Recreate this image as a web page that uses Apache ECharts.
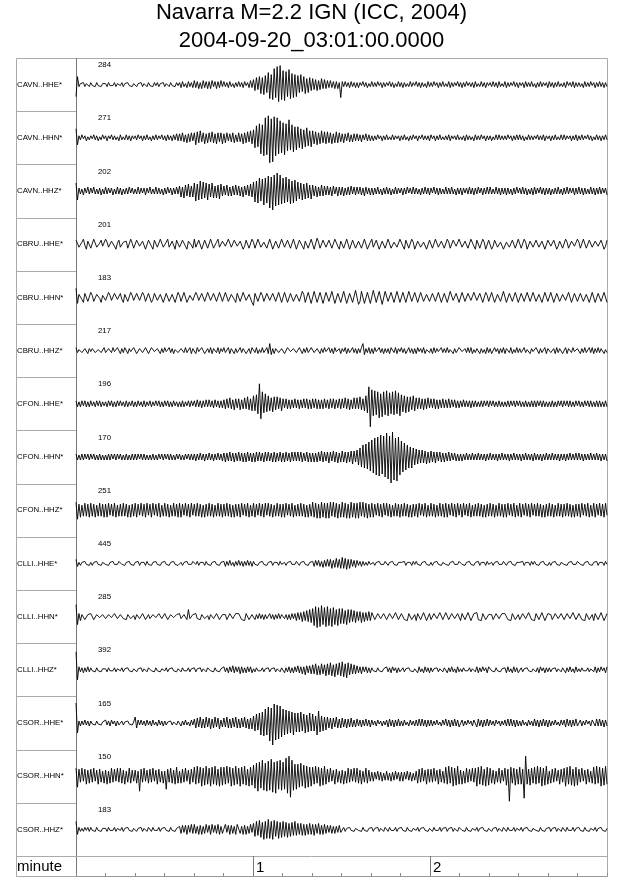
<!DOCTYPE html>
<html><head><meta charset="utf-8">
<script src="https://cdn.jsdelivr.net/npm/echarts@6/dist/echarts.min.js"></script>
<style>html,body{margin:0;padding:0;background:#fff}#c{width:640px;height:878px}</style>
</head><body><div id="c"></div>
<script>
// ---- data ----
const titleLines = ['Navarra M=2.2 IGN (ICC, 2004)', '2004-09-20_03:01:00.0000'];
const stations = ['CAVN..HHE*','CAVN..HHN*','CAVN..HHZ*','CBRU..HHE*','CBRU..HHN*','CBRU..HHZ*','CFON..HHE*','CFON..HHN*','CFON..HHZ*','CLLI..HHE*','CLLI..HHN*','CLLI..HHZ*','CSOR..HHE*','CSOR..HHN*','CSOR..HHZ*'];
const peakCounts = [284,271,202,201,183,217,196,170,251,445,285,392,165,150,183];
const axisName = 'minute';
const minuteTickValues = [60, 120];      // seconds
const minuteTickLabels = ['1', '2'];
const durationSec = 180;

// trace samples (two per second), deflection in screen pixels
const CAVN_HHE = [-12,8,-2,1,-1,2,-2,1,0,-2, 2,-1,1,-2,2,-1,0,-2,1,-1, 1,-2,2,-1,1,-1,2,-2,1,0, -1,2,-2,1,-1,2,-1,1,-2,1, 2,-2,1,-1,2,-2,1,0,-2,2, -1,1,-2,2,-1,2,-2,1,-1,2, -2,1,0,-2,2,-1,1,-2,2,-1, 2,-3,3,-2,1,-3,3,-2,2,-3, 4,-3,3,-4,2,-4,4,-3,3,-4, 3,-4,4,-2,3,-4,3,-3,4,-2, 3,-2,2,-3,3,-2,1,-3,2,-2, 3,-2,2,-3,3,-1,2,-3,4,-3, 5,-6,7,-5,8,-9,7,-10,9,-8, 12,-14,10,-15,16,-13,18,-17,19,-15, 14,-16,13,-12,15,-14,11,-13,10,-12, 9,-8,10,-7,8,-9,6,-8,7,-6, 6,-5,5,-6,4,-5,6,-4,5,-4, 4,-3,4,-3,3,-4,3,-4,2,-13, 3,-2,3,-2,2,-3,3,-2,2,-3, 2,-3,2,-1,3,-2,2,-3,1,-2, 3,-2,2,-2,3,-1,2,-3,2,-2, 2,-1,3,-2,2,-3,1,-2,3,-2, 2,-3,2,-2,1,-2,3,-2,2,-1, 3,-2,2,-3,2,-2,1,-3,3,-2, 2,-2,3,-1,2,-3,2,-2,3,-2, 1,-2,3,-3,2,-2,2,-1,3,-2, 2,-3,2,-2,3,-1,2,-2,2,-3, 3,-2,1,-2,3,-2,2,-3,2,-1, 2,-2,3,-2,2,-3,3,-2,1,-2, 3,-3,2,-2,2,-1,3,-2,2,-3, 2,-1,2,-3,3,-2,2,-2,3,-2, 1,-3,2,-2,3,-2,2,-1,2,-3, 3,-2,2,-3,2,-2,3,-2,1,-2, 2,-3,3,-1,2,-2,3,-3,2,-2, 2,-2,1,-3,3,-2,2,-2,3,-1, 2,-3,2,-2,3,-2,2,-3,2,-2];
const CAVN_HHN = [9,-7,2,-2,3,-1,2,-3,1,-2, 2,-1,3,-2,2,-3,1,-2,3,-1, 2,-3,2,-1,3,-2,2,-2,1,-3, 3,-2,1,-2,3,-2,2,-3,2,-1, 2,-2,3,-1,2,-3,2,-2,3,-2, 1,-3,2,-2,3,-2,2,-1,3,-2, 2,-3,3,-2,2,-3,3,-2,4,-3, 4,-3,5,-4,3,-5,4,-4,5,-3, 5,-7,6,-5,7,-4,5,-6,4,-5, 5,-4,6,-5,4,-6,5,-4,5,-6, 4,-5,5,-3,4,-4,5,-5,3,-4, 5,-4,4,-6,5,-5,6,-4,7,-6, 8,-10,12,-9,14,-16,13,-18,20,-17, 22,-25,19,-24,21,-18,20,-16,17,-15, 15,-17,14,-13,18,-12,13,-14,11,-12, 11,-10,9,-11,8,-9,10,-8,7,-9, 7,-6,6,-7,5,-6,7,-5,6,-6, 6,-5,5,-6,4,-5,6,-5,5,-4, 4,-5,4,-3,5,-4,3,-4,4,-3, 4,-3,3,-4,3,-2,4,-3,3,-3, 2,-3,2,-2,3,-1,2,-3,2,-2, 3,-2,1,-2,3,-2,2,-1,2,-3, 2,-2,3,-2,1,-3,2,-2,3,-1, 2,-3,2,-1,3,-2,2,-2,2,-3, 3,-1,2,-3,2,-2,3,-2,1,-2, 2,-2,3,-3,2,-1,2,-2,3,-2, 1,-2,2,-3,3,-2,2,-2,1,-3, 3,-2,2,-2,3,-1,2,-3,2,-2, 2,-3,1,-2,3,-2,3,-2,2,-2, 2,-2,3,-1,2,-3,2,-2,3,-2, 3,-2,2,-3,1,-2,3,-2,2,-2, 2,-1,3,-2,2,-2,3,-3,2,-1, 2,-3,2,-2,3,-2,1,-2,3,-2, 3,-2,2,-1,2,-3,2,-2,3,-3, 2,-2,3,-2,2,-1,3,-2,2,-3, 1,-2,3,-2,2,-3,2,-2,3,-2];
const CAVN_HHZ = [8,-9,3,-3,2,-4,3,-2,4,-3, 3,-2,4,-3,2,-3,3,-4,2,-3, 4,-3,3,-2,3,-4,2,-3,4,-3, 3,-4,2,-3,3,-3,4,-2,3,-3, 2,-3,4,-3,3,-2,3,-4,3,-2, 4,-3,2,-3,4,-3,3,-3,2,-4, 3,-3,4,-2,3,-4,3,-3,4,-3, 5,-6,4,-7,6,-5,7,-6,5,-6, 8,-10,7,-9,10,-8,9,-7,8,-9, 7,-6,8,-7,5,-7,6,-8,7,-5, 5,-4,6,-5,4,-5,5,-4,6,-4, 5,-5,4,-6,5,-4,6,-5,7,-6, 9,-11,10,-12,13,-10,12,-14,13,-12, 15,-17,14,-19,16,-15,18,-14,16,-13, 13,-12,14,-11,12,-13,10,-12,11,-10, 9,-8,8,-9,7,-8,8,-7,6,-8, 6,-5,5,-6,4,-5,6,-5,5,-4, 5,-4,4,-5,5,-3,4,-5,4,-4, 4,-5,3,-4,4,-4,5,-3,4,-4, 4,-3,4,-4,3,-5,4,-3,3,-4, 3,-4,3,-3,4,-3,2,-4,3,-3, 4,-3,3,-4,2,-3,4,-3,3,-2, 3,-4,3,-3,4,-2,3,-3,4,-3, 3,-3,2,-4,3,-3,4,-3,3,-4, 3,-2,4,-3,3,-4,3,-3,2,-3, 4,-3,3,-3,4,-3,2,-4,3,-3, 3,-4,3,-2,3,-3,4,-3,3,-4, 3,-3,4,-2,3,-4,3,-3,4,-3, 4,-3,2,-3,4,-3,3,-4,3,-3, 3,-4,3,-3,2,-4,3,-3,4,-2, 3,-3,4,-3,3,-4,2,-3,3,-4, 4,-3,3,-2,4,-3,3,-4,3,-3, 3,-4,2,-3,3,-3,4,-3,2,-4, 3,-3,4,-3,3,-2,3,-4,3,-3, 4,-3,3,-4,3,-3,2,-3,4,-3, 3,-4,3,-3,4,-3,3,-2,3,-4];
const CBRU_HHE = [4,1,-3,-4,2,5,-1,-5,3,2, -4,-2,5,3,-3,-5,1,4,-2,-4, 5,2,-3,-4,3,4,-2,-5,1,4, -3,-5,2,4,3,-4,-2,5,1,-4, -3,4,5,-2,-4,3,2,-5,-3,4, 3,-2,-5,4,2,-3,-4,5,1,-3, -4,2,5,-3,-4,3,1,-5,4,2, -3,-4,4,3,-2,-5,3,4,-1,-4, 5,-3,-2,4,3,-5,-3,4,2,-4, -2,5,3,-4,-4,2,5,-3,-5,3, 4,-2,-4,5,1,-3,-5,4,3,-2, -4,3,4,-5,-2,4,3,-4,-3,5, 2,-4,-3,5,4,-3,-5,2,4,-4, -2,5,3,-5,-4,3,2,-4,-3,5, 4,-3,-5,4,2,-4,-2,5,3,-5, -3,4,5,-2,-5,3,4,-4,-2,5, 3,-5,-3,6,2,-4,-5,4,3,-3, -5,4,2,-4,-3,5,4,-2,-5,3, 4,-4,-2,5,3,-5,-3,4,2,-4, -5,3,4,-4,-2,5,3,-5,-4,2, 5,-3,-4,4,2,-5,-3,3,4,-4, -2,5,3,-4,-5,2,4,-3,-4,5, 3,-2,-5,4,3,-4,-2,5,2,-5, -4,3,5,-3,-4,2,4,-5,-3,4, 2,-4,-3,5,4,-3,-5,3,2,-4, -3,5,2,-4,-5,4,3,-2,-4,5, 4,-3,-5,3,2,-4,-3,5,4,-2, -5,4,3,-4,-2,5,2,-5,-3,4, 3,-5,-2,4,5,-3,-4,2,3,-5, -4,2,4,-3,-5,4,3,-4,-2,5, 3,-4,-3,5,2,-5,-4,3,4,-3, -2,4,5,-3,-4,3,2,-5,-3,4, 5,-2,-4,4,3,-5,-2,3,4,-4, -3,5,2,-4,-5,3,4,-2,-4,5, 2,-4,-3,5,3,-4,-5,4,2,-3, -4,3,5,-2,-4,4,3,-5,-2,4];
const CBRU_HHN = [9,-6,3,5,-2,-5,4,3,-4,-2, 5,2,-4,-5,3,4,-1,-5,2,4, -3,-4,5,2,-3,-5,4,3,-2,-4, 4,-2,-5,3,4,-4,-3,5,2,-3, -5,4,3,-3,-4,5,2,-4,-3,4, 3,-5,-2,4,5,-3,-4,3,2,-5, -3,4,5,-4,-2,3,4,-5,-3,5, 2,-4,-3,5,3,-5,-4,2,4,-3, -4,5,2,-3,-5,4,3,-4,-2,5, 4,-3,-5,4,2,-4,-3,5,3,-4, -3,5,3,-4,-4,3,5,-2,-5,4, 2,-4,-3,5,4,-3,-5,3,2,-5, -8,4,3,-4,-3,5,2,-4,-4,4, 5,-3,-5,4,3,-4,-2,5,4,-5, -3,5,4,-5,-3,4,5,-4,-5,3, 5,-4,-5,6,3,-5,-4,5,4,-6, -5,6,4,-5,-6,5,3,-6,-4,5, 6,-4,-5,6,4,-6,-5,4,6,-5, -4,6,5,-6,-5,4,6,-5,-4,7, 5,-7,-4,6,5,-6,-7,5,4,-6, -6,7,5,-5,-6,6,4,-7,-5,6, 5,-4,-6,5,3,-5,-4,6,4,-5, -4,5,4,-5,-3,6,4,-4,-5,5, 4,-5,-3,5,4,-4,-5,3,5,-4, -5,4,5,-4,-3,5,3,-5,-4,4, 3,-5,-4,6,4,-3,-5,4,3,-5, -4,5,3,-4,-5,4,5,-3,-4,5, 5,-3,-5,4,3,-5,-4,5,2,-4, -3,5,4,-5,-4,3,5,-4,-3,6, 4,-5,-3,4,5,-4,-3,5,4,-5, -5,4,3,-4,-5,5,3,-4,-4,5, 4,-4,-5,3,4,-5,-3,5,3,-4, -4,5,3,-5,-3,4,5,-4,-5,3, 5,-3,-4,5,4,-5,-3,4,5,-4, -3,4,5,-4,-5,3,4,-5,-3,5, 4,-5,-3,4,5,-4,-4,5,3,-5];
const CBRU_HHZ = [3,-2,1,3,-2,-3,2,1,-3,2, -1,2,3,-2,-3,1,2,-2,-1,3, -2,-3,2,1,-2,3,-1,-2,3,2, -3,2,-2,3,1,-3,2,-1,-2,3, 2,-3,-1,2,3,-2,-2,3,1,-3, -2,3,2,-1,-3,2,1,-3,2,-2, 3,-1,-2,3,-2,2,-3,1,3,-2, -3,2,1,-2,3,-2,-1,3,-3,2, 2,-3,3,-1,-2,3,2,-3,-2,2, -2,3,-3,2,1,-2,3,-3,2,-1, 3,-2,-2,3,-3,2,1,-3,2,-2, -1,3,-2,2,3,-3,-2,2,-3,3, 2,-2,3,-3,1,-2,3,-2,-2,3, -3,7,-4,2,-3,2,3,-2,-3,2, 2,-3,-2,3,2,-1,-3,2,3,-2, -2,3,1,-3,2,-2,3,-2,-1,3, 3,-2,-3,2,1,-3,2,-2,3,-1, -2,3,-2,2,-3,3,-1,-2,2,-3, 2,-1,3,-3,2,-2,-2,3,-2,2, -3,2,-2,3,7,-4,2,-2,3,-3, 2,-3,3,-1,-2,3,-2,2,-3,2, -2,2,-3,3,1,-2,3,-3,2,-1, 3,-2,2,-3,-1,3,-2,2,-3,2, -3,3,-1,2,-2,3,-3,1,2,-2, 2,-3,3,-2,2,-1,-3,3,-2,2, -2,3,-2,1,3,-3,2,-2,-1,3, 3,-1,-3,2,-2,3,-2,3,-3,1, -2,2,3,-3,2,-2,1,-3,3,-2, 2,-3,-2,3,-1,2,-3,2,-2,3, -3,2,2,-2,3,-3,1,-2,3,-2, 2,-2,-3,3,-2,1,3,-3,2,-1, -2,3,2,-3,2,-2,-2,3,-3,2, 3,-2,-1,2,-3,3,-2,2,1,-3, -2,3,-3,2,2,-2,3,-1,-3,2, 2,-3,2,-2,3,-2,-1,3,-2,3, -3,2,-2,3,-2,2,3,-3,1,-2];
const CFON_HHE = [3,-3,2,-3,3,-2,3,-3,2,-3, 3,-2,2,-3,3,-2,3,-3,2,-2, 2,-3,3,-2,3,-3,2,-3,3,-2, 3,-2,2,-3,3,-3,2,-2,3,-3, 2,-3,3,-2,2,-3,3,-3,2,-2, 3,-3,2,-2,3,-2,3,-3,2,-3, 3,-2,3,-3,2,-3,3,-2,2,-3, 2,-3,3,-3,2,-2,3,-3,3,-2, 3,-3,4,-3,3,-4,3,-3,4,-3, 4,-3,3,-4,4,-3,3,-4,3,-4, 4,-5,5,-4,6,-5,4,-6,5,-4, 5,-6,4,-5,6,-5,7,-6,5,-7, 8,-7,9,-10,20,-15,12,-9,10,-8, 8,-7,6,-8,7,-6,7,-5,6,-7, 5,-4,5,-5,4,-5,4,-4,5,-4, 4,-5,4,-4,5,-4,5,-5,4,-5, 5,-4,5,-5,4,-5,4,-5,5,-4, 4,-5,5,-4,5,-5,4,-4,5,-5, 5,-4,6,-5,5,-6,4,-5,6,-5, 6,-5,7,-6,5,-7,8,-9,17,-23, 14,-12,13,-11,12,-14,10,-13,12,-11, 13,-12,11,-10,12,-11,13,-10,11,-12, 9,-8,8,-9,7,-8,7,-6,8,-7, 6,-5,6,-5,5,-6,5,-5,6,-4, 5,-4,5,-5,4,-5,4,-4,5,-4, 4,-4,5,-4,4,-3,4,-4,3,-4, 3,-3,4,-3,3,-3,3,-4,3,-3, 3,-3,2,-3,3,-3,3,-2,3,-3, 3,-2,3,-3,2,-3,3,-3,2,-3, 2,-3,3,-3,3,-2,3,-3,3,-2, 3,-3,2,-3,3,-3,2,-3,3,-3, 3,-3,3,-2,3,-3,3,-3,2,-3, 2,-3,3,-3,2,-3,3,-2,3,-3, 3,-2,3,-3,3,-3,2,-3,3,-2, 3,-3,2,-3,3,-2,3,-3,3,-3, 2,-3,3,-3,3,-3,2,-3,3,-3];
const CFON_HHN = [3,-3,2,-3,3,-3,3,-2,3,-3, 3,-2,3,-3,2,-3,3,-3,2,-3, 2,-3,3,-3,3,-2,3,-3,3,-2, 3,-3,2,-3,3,-3,2,-3,3,-3, 3,-3,3,-2,3,-3,3,-3,2,-3, 2,-3,3,-3,2,-3,3,-2,3,-3, 3,-2,3,-3,3,-3,2,-3,3,-2, 3,-3,2,-3,3,-2,3,-3,3,-3, 3,-4,3,-3,4,-3,3,-4,3,-3, 4,-3,3,-4,3,-3,4,-3,3,-4, 4,-5,4,-4,5,-4,4,-5,4,-4, 5,-4,4,-5,4,-5,5,-4,4,-5, 4,-5,5,-4,5,-4,4,-5,5,-4, 5,-4,4,-5,5,-5,4,-4,5,-5, 4,-5,5,-4,4,-5,5,-4,5,-4, 5,-4,5,-5,4,-4,5,-5,4,-5, 4,-5,4,-5,5,-4,6,-5,5,-4, 5,-6,5,-4,6,-5,5,-6,4,-5, 6,-5,5,-6,5,-5,6,-7,6,-5, 7,-8,9,-10,12,-11,13,-12,15,-14, 17,-16,19,-18,20,-19,22,-17,21,-20, 24,-22,21,-26,25,-23,19,-24,20,-18, 16,-15,14,-13,12,-11,10,-11,9,-8, 8,-7,7,-6,7,-6,6,-7,5,-6, 6,-5,5,-6,5,-4,5,-5,4,-5, 4,-4,5,-4,4,-3,4,-4,3,-4, 3,-4,3,-3,4,-3,3,-3,4,-3, 3,-3,4,-3,3,-3,3,-4,3,-3, 4,-3,3,-3,3,-4,3,-3,4,-3, 3,-3,3,-4,3,-3,4,-3,3,-3, 3,-4,3,-3,4,-3,3,-3,3,-4, 4,-3,3,-3,3,-4,3,-3,4,-3, 3,-3,4,-3,3,-3,3,-4,3,-3, 3,-4,3,-3,4,-3,3,-3,4,-3, 4,-3,3,-4,3,-3,3,-3,4,-3, 3,-3,4,-3,3,-4,3,-3,3,-4];
const CFON_HHZ = [8,-9,6,-7,5,-6,7,-6,6,-7, 7,-6,6,-7,5,-6,7,-6,6,-7, 6,-7,7,-5,6,-6,7,-7,5,-6, 6,-6,7,-6,6,-7,5,-7,6,-6, 7,-7,6,-5,7,-6,6,-7,7,-5, 6,-7,7,-5,6,-6,7,-7,5,-6, 7,-6,6,-7,5,-6,7,-6,6,-7, 7,-7,6,-5,7,-6,6,-7,7,-5, 6,-6,7,-6,6,-7,5,-7,6,-6, 7,-6,6,-7,5,-6,7,-6,6,-7, 6,-6,7,-6,6,-7,5,-7,6,-6, 6,-7,7,-5,6,-6,7,-7,5,-6, 7,-7,6,-5,7,-6,6,-7,7,-5, 7,-6,6,-7,5,-6,7,-6,6,-7, 6,-7,7,-5,6,-6,7,-7,5,-6, 6,-6,7,-6,6,-7,5,-7,6,-6, 8,-7,7,-8,6,-8,8,-7,7,-8, 7,-8,8,-6,8,-7,7,-8,6,-7, 8,-7,7,-8,6,-8,8,-7,7,-8, 7,-8,8,-6,8,-7,7,-8,6,-7, 7,-7,6,-5,7,-6,6,-7,7,-5, 7,-6,6,-7,5,-6,7,-6,6,-7, 6,-6,7,-6,6,-7,5,-7,6,-6, 6,-7,7,-5,6,-6,7,-7,5,-6, 7,-6,6,-7,5,-6,7,-6,6,-7, 7,-7,6,-5,7,-6,6,-7,7,-5, 6,-7,7,-5,6,-6,7,-7,5,-6, 6,-6,7,-6,6,-7,5,-7,6,-6, 7,-6,6,-7,5,-6,7,-6,6,-7, 6,-7,7,-5,6,-6,7,-7,5,-6, 7,-7,6,-5,7,-6,6,-7,7,-5, 6,-6,7,-6,6,-7,5,-7,6,-6, 7,-6,6,-7,5,-6,7,-6,6,-7, 6,-6,7,-6,6,-7,5,-7,6,-6, 6,-7,7,-5,6,-6,7,-7,5,-6, 7,-7,6,-5,7,-6,6,-7,7,-5];
const CLLI_HHE = [4,-3,1,-2,1,-1,2,-1,1,-2, 1,-2,1,-1,2,-1,1,-2,1,-1, -1,1,-2,1,-1,2,-1,1,-1,2, 2,-1,1,-2,1,-1,2,-1,1,-2, 1,-1,2,-2,1,-1,1,-2,2,-1, 1,-2,1,-1,2,-1,1,-2,1,-1, 2,-1,1,-2,1,-1,2,-1,1,-2, -1,1,-2,1,-1,2,-1,1,-1,2, 1,-1,2,-2,1,-1,1,-2,2,-1, 1,-2,1,-1,2,-1,1,-2,1,-1, 2,-3,2,-2,3,-2,1,-3,2,-2, 3,-2,2,-3,2,-2,3,-2,2,-3, 2,-1,1,-2,1,-1,2,-1,1,-2, 1,-1,2,-2,1,-1,1,-2,2,-1, -1,1,-2,1,-1,2,-1,1,-1,2, 1,-2,1,-1,2,-1,1,-2,1,-1, 2,-3,3,-2,3,-3,2,-4,3,-3, 4,-3,4,-5,3,-4,5,-4,4,-5, 6,-5,5,-6,4,-5,4,-3,3,-4, 3,-2,2,-3,2,-2,1,-2,2,-1, -1,1,-2,1,-1,2,-1,1,-1,2, 1,-2,1,-1,2,-1,1,-2,1,-1, 1,-1,2,-2,1,-1,1,-2,2,-1, 2,-1,1,-2,1,-1,2,-1,1,-2, 1,-2,1,-1,2,-1,1,-2,1,-1, -1,1,-2,1,-1,2,-1,1,-1,2, 2,-1,1,-2,1,-1,2,-1,1,-2, 1,-1,2,-2,1,-1,1,-2,2,-1, -1,1,-2,1,-1,2,-1,1,-1,2, 1,-2,1,-1,2,-1,1,-2,1,-1, 1,-1,2,-2,1,-1,1,-2,2,-1, 2,-1,1,-2,1,-1,2,-1,1,-2, 1,-2,1,-1,2,-1,1,-2,1,-1, -1,1,-2,1,-1,2,-1,1,-1,2, 2,-1,1,-2,1,-1,2,-1,1,-2, 1,-1,2,-2,1,-1,1,-2,2,-1];
const CLLI_HHN = [12,-8,3,-4,2,3,-3,-2,2,3, 3,1,-3,-2,2,3,-1,-3,2,1, -2,-3,2,3,-1,-3,3,2,-2,-3, 2,3,-2,-1,-3,2,3,-2,-3,1, -3,2,3,-2,-2,3,1,-3,-2,2, -2,-3,2,3,-1,-3,3,2,-2,-3, 3,1,-3,-2,2,3,-1,-3,2,1, 3,-2,-3,2,3,-3,7,-2,-3,2, 2,3,-2,-1,-3,2,3,-2,-3,1, -3,2,3,-2,-2,3,1,-3,-2,2, 4,2,-3,-4,3,4,-2,-4,3,2, 3,4,-3,-2,-4,3,4,-3,-4,2, 2,-3,2,-2,3,-2,2,-3,2,-2, -2,3,-2,2,-3,2,-2,3,-2,2, 3,-2,2,-3,2,-3,3,-2,3,-4, 4,-3,4,-5,5,-4,6,-5,7,-6, 8,-9,10,-11,9,-10,11,-8,9,-10, 10,-9,8,-10,9,-8,7,-9,8,-7, 8,-7,6,-8,7,-6,7,-5,6,-6, 5,-4,5,-6,4,-5,4,-4,5,-4, 4,2,-3,-4,3,4,-2,-4,3,2, -3,-4,3,4,-2,-4,4,3,-3,-4, 3,4,-3,-2,-4,3,4,-3,-4,2, -4,3,4,-3,-3,4,2,-4,-3,3, -3,-4,3,4,-2,-4,4,3,-3,-4, 4,2,-3,-4,3,4,-2,-4,3,2, -4,3,4,-3,-3,4,2,-4,-3,3, 3,4,-3,-2,-4,3,4,-3,-4,2, 4,2,-3,-4,3,4,-2,-4,3,2, 3,4,-3,-2,-4,3,4,-3,-4,2, -3,-4,3,4,-2,-4,4,3,-3,-4, -4,3,4,-3,-3,4,2,-4,-3,3, 4,2,-3,-4,3,4,-2,-4,3,2, -3,-4,3,4,-2,-4,4,3,-3,-4, 3,4,-3,-2,-4,3,4,-3,-4,2, -4,3,4,-3,-3,4,2,-4,-3,3];
const CLLI_HHZ = [18,-10,3,-2,2,-3,2,-2,3,-2, 2,-1,1,-2,2,-1,0,-2,1,-1, 1,-2,2,-1,1,-1,2,-2,1,0, -1,2,-2,1,-1,2,-1,1,-2,1, 2,-2,1,-1,2,-2,1,0,-2,2, 2,-1,1,-2,2,-1,0,-2,1,-1, -1,2,-2,1,-1,2,-1,1,-2,1, 1,-2,2,-1,1,-1,2,-2,1,0, 2,-2,1,-1,2,-2,1,0,-2,2, 2,-1,1,-2,2,-1,0,-2,1,-1, 3,-2,2,-3,3,-2,4,-3,3,-2, 3,-4,3,-3,2,-3,3,-2,3,-3, 1,-2,2,-1,1,-1,2,-2,1,0, 2,-2,1,-1,2,-2,1,0,-2,2, 2,-3,2,-2,3,-3,2,-3,3,-2, 4,-3,3,-4,3,-5,4,-3,4,-4, 5,-4,6,-5,4,-5,6,-4,5,-6, 6,-5,7,-6,5,-7,6,-5,7,-6, 8,-7,6,-8,7,-5,6,-4,5,-4, 4,-3,3,-4,3,-2,3,-3,2,-3, 2,-1,1,-2,2,-1,0,-2,1,-1, 3,-2,2,-3,3,-1,2,-3,2,-2, -1,2,-2,1,-1,2,-1,1,-2,1, 2,-3,3,-2,1,-3,3,-2,2,-3, 2,-2,1,-1,2,-2,1,0,-2,2, 3,-3,2,-2,3,-2,1,-3,3,-2, 1,-2,2,-1,1,-1,2,-2,1,0, -2,3,-3,2,-2,3,-1,2,-3,3, 2,-1,1,-2,2,-1,0,-2,1,-1, 2,-3,3,-2,1,-3,3,-2,2,-3, -1,2,-2,1,-1,2,-1,1,-2,1, 3,-2,2,-3,3,-1,2,-3,2,-2, 2,-2,1,-1,2,-2,1,0,-2,2, 3,-3,2,-2,3,-2,1,-3,3,-2, 1,-2,2,-1,1,-1,2,-2,1,0, -2,3,-3,2,-2,3,-1,2,-3,3];
const CSOR_HHE = [20,-10,2,-3,2,-2,3,-2,2,-3, 2,-1,1,-2,2,-1,0,-2,1,-1, 3,-2,2,-3,3,-1,2,-3,2,-2, -1,2,-2,1,-1,2,-1,1,-2,1, 6,-5,3,-2,3,-2,2,-3,3,-2, 2,-3,3,-2,1,-3,3,-2,2,-3, 2,-2,1,-1,2,-2,1,0,-2,2, 3,-3,2,-2,3,-2,1,-3,3,-2, 4,-5,5,-4,6,-5,4,-5,6,-4, 5,-6,4,-5,6,-4,5,-6,3,-4, 5,-4,6,-5,4,-5,5,-4,6,-5, 4,-5,5,-4,6,-5,4,-6,5,-6, 7,-8,9,-7,10,-12,11,-13,14,-12, 16,-18,15,-22,19,-17,18,-16,17,-14, 14,-12,13,-11,12,-10,11,-12,10,-9, 10,-9,11,-8,9,-10,8,-9,10,-8, 9,-8,7,-12,12,-9,7,-8,6,-7, 6,-5,5,-6,5,-4,6,-5,4,-5, 5,-4,4,-5,4,-4,5,-4,3,-4, 4,-3,3,-4,3,-3,4,-3,3,-4, 3,-2,2,-3,3,-1,2,-3,2,-2, 3,-4,4,-3,3,-4,3,-3,4,-3, 2,-3,3,-2,1,-3,3,-2,2,-3, 3,-3,4,-3,4,-3,3,-4,3,-3, 3,-3,2,-2,3,-2,1,-3,3,-2, 4,-3,3,-4,3,-3,4,-3,3,-4, -2,3,-3,2,-2,3,-1,2,-3,3, 3,-4,4,-3,3,-4,3,-3,4,-3, 3,-2,2,-3,3,-1,2,-3,2,-2, 3,-3,4,-3,4,-3,3,-4,3,-3, 2,-3,3,-2,1,-3,3,-2,2,-3, 4,-3,3,-4,3,-3,4,-3,3,-4, 3,-3,2,-2,3,-2,1,-3,3,-2, 3,-4,4,-3,3,-4,3,-3,4,-3, -2,3,-3,2,-2,3,-1,2,-3,3, 3,-3,4,-3,4,-3,3,-4,3,-3];
const CSOR_HHN = [8,-11,7,-6,8,-5,7,-8,6,-7, 7,-6,8,-5,6,-8,7,-6,5,-7, 6,-8,5,-7,8,-6,7,-5,8,-6, 8,-7,6,-8,5,-6,8,-7,6,-5, 6,-7,5,-15,7,-6,8,-5,6,-7, 7,-6,8,-5,6,-8,7,-6,5,-7, 5,-13,7,-6,8,-7,6,-8,9,-7, 5,-7,7,-6,8,-5,6,-8,7,-6, 9,-8,10,-7,9,-10,8,-9,10,-8, 8,-10,9,-8,10,-9,7,-10,9,-9, 9,-8,10,-7,9,-10,8,-9,10,-8, 8,-10,9,-8,10,-9,7,-10,9,-9, 11,-12,13,-15,14,-12,16,-14,13,-15, 15,-14,17,-16,14,-17,15,-13,16,-14, 14,-13,18,-17,20,-21,16,-14,12,-13, 12,-11,13,-10,11,-12,10,-11,9,-10, 9,-8,10,-7,9,-10,8,-9,10,-8, 7,-6,8,-5,6,-8,7,-6,5,-7, 6,-8,5,-7,8,-6,7,-5,8,-6, 8,-7,6,-8,5,-6,8,-7,6,-5, 4,-5,4,-3,5,-4,4,-5,3,-4, 5,-4,3,-5,4,-4,5,-3,4,-5, 4,-5,4,-3,5,-4,4,-5,3,-4, 5,-7,7,-6,8,-5,6,-8,7,-6, 7,-6,8,-5,6,-8,7,-6,5,-7, 9,-8,10,-7,9,-10,8,-9,10,-8, 6,-8,5,-7,8,-6,7,-5,8,-6, 8,-10,9,-8,10,-9,7,-10,9,-9, 8,-7,6,-8,5,-6,8,-7,6,-5, 8,-9,7,-25,9,-7,8,-9,7,-8, 9,-8,7,-22,20,-8,7,-9,8,-7, 9,-8,10,-7,9,-10,8,-9,10,-8, 5,-7,7,-6,8,-5,6,-8,7,-6, 8,-10,9,-8,10,-9,7,-10,9,-9, 7,-6,8,-5,6,-8,7,-6,5,-7, 9,-8,10,-7,9,-10,8,-9,10,-8];
const CSOR_HHZ = [8,-5,2,-2,1,-2,2,-1,2,-2, 2,-1,1,-2,2,-1,0,-2,1,-1, 1,-2,2,-1,1,-1,2,-2,1,0, -1,2,-2,1,-1,2,-1,1,-2,1, 2,-2,1,-1,2,-2,1,0,-2,2, 1,-2,2,-1,1,-1,2,-2,1,0, 2,-1,1,-2,2,-1,0,-2,1,-1, 3,-4,4,-3,4,-5,4,-3,5,-4, 5,-4,3,-5,4,-5,3,-4,5,-3, 4,-5,5,-3,4,-4,5,-5,3,-4, -4,5,-3,4,-5,4,-4,3,-5,5, 5,-4,3,-5,4,-5,3,-4,5,-3, 6,-7,8,-6,9,-8,7,-10,8,-9, 10,-9,8,-10,9,-7,8,-9,7,-8, 8,-7,7,-8,6,-7,7,-6,8,-6, 6,-5,6,-6,5,-6,5,-5,6,-5, 5,-6,5,-4,6,-5,4,-5,5,-4, 4,-3,4,-4,3,-4,3,-3,4,-3, -1,2,-2,1,-1,2,-1,1,-2,1, 2,-1,1,-2,2,-1,0,-2,1,-1, 2,-2,1,-1,2,-2,1,0,-2,2, 1,-2,2,-1,1,-1,2,-2,1,0, 2,-1,1,-2,2,-1,0,-2,1,-1, -1,2,-2,1,-1,2,-1,1,-2,1, 1,-2,2,-1,1,-1,2,-2,1,0, 2,-2,1,-1,2,-2,1,0,-2,2, 2,-1,1,-2,2,-1,0,-2,1,-1, -1,2,-2,1,-1,2,-1,1,-2,1, 2,-2,1,-1,2,-2,1,0,-2,2, 1,-2,2,-1,1,-1,2,-2,1,0, -1,2,-2,1,-1,2,-1,1,-2,1, 2,-1,1,-2,2,-1,0,-2,1,-1, 2,-2,1,-1,2,-2,1,0,-2,2, 1,-2,2,-1,1,-1,2,-2,1,0, 2,-1,1,-2,2,-1,0,-2,1,-1, -1,2,-2,1,-1,2,-1,1,-2,1];
const traces = [CAVN_HHE, CAVN_HHN, CAVN_HHZ, CBRU_HHE, CBRU_HHN, CBRU_HHZ, CFON_HHE, CFON_HHN, CFON_HHZ, CLLI_HHE, CLLI_HHN, CLLI_HHZ, CSOR_HHE, CSOR_HHN, CSOR_HHZ];

// ---- layout ----
const FONT = '"Liberation Sans", Arial, Helvetica, sans-serif';
const BOX_L = 16, COL_R = 76, PLOT_R = 607, TOP = 58, AX_T = 856, BOT = 876;
const ROW_H = (AX_T - TOP) / traces.length;
const HALF = ROW_H / 2;

const grids = [], xAxes = [], yAxes = [], series = [], graphics = [];
traces.forEach((tr, i) => {
  const top = TOP + i * ROW_H;
  grids.push({ left: COL_R, right: 640 - PLOT_R, top: top, height: ROW_H });
  xAxes.push({ type: 'value', gridIndex: i, min: 0, max: durationSec, show: false });
  yAxes.push({ type: 'value', gridIndex: i, min: -HALF, max: HALF, show: false });
  const dt = durationSec / (tr.length - 1);
  series.push({
    type: 'line', xAxisIndex: i, yAxisIndex: i, showSymbol: false, symbol: 'none',
    silent: true, animation: false, clip: true,
    lineStyle: { color: '#000', width: 0.9 },
    data: tr.map((v, k) => [k * dt, v])
  });
  graphics.push({ type: 'text', x: 17, y: top + HALF, style: { text: stations[i], font: '7.8px ' + FONT, fill: '#000', textVerticalAlign: 'middle', verticalAlign: 'middle' } });
  graphics.push({ type: 'text', x: 98, y: top + 7, style: { text: String(peakCounts[i]), font: '7.8px ' + FONT, fill: '#000', textVerticalAlign: 'middle', verticalAlign: 'middle' } });
  if (i > 0) {
    const y = Math.round(top) + 0.5;
    graphics.push({ type: 'line', shape: { x1: BOX_L, y1: y, x2: COL_R, y2: y }, style: { stroke: '#aaa', lineWidth: 1 } });
  }
});

// bottom time axis row
const ai = traces.length;
grids.push({ left: COL_R, right: 640 - PLOT_R, top: AX_T, height: BOT - AX_T });
xAxes.push({
  type: 'value', gridIndex: ai, min: 0, max: durationSec, interval: 10, position: 'bottom',
  axisLine: { show: true, lineStyle: { color: '#999', width: 1 } },
  axisTick: { show: true, inside: true, length: 3, lineStyle: { color: '#888' } },
  axisLabel: {
    show: true, inside: true, align: 'left', verticalAlign: 'bottom', margin: 1, padding: [0, 0, 0, 3],
    fontSize: 15, fontFamily: FONT, color: '#000',
    formatter: v => { const j = minuteTickValues.indexOf(v); return j >= 0 ? minuteTickLabels[j] : ''; }
  },
  splitLine: { show: false }
});
yAxes.push({ type: 'value', gridIndex: ai, min: 0, max: 1, show: false });
series.push({
  type: 'line', xAxisIndex: ai, yAxisIndex: ai, data: [[0, 0]], showSymbol: false, symbol: 'none',
  lineStyle: { opacity: 0 }, silent: true, animation: false,
  markLine: {
    silent: true, symbol: ['none', 'none'], animation: false, label: { show: false },
    lineStyle: { color: '#777', type: 'solid', width: 1 },
    data: minuteTickValues.map(v => ({ xAxis: v }))
  }
});

// frame
graphics.push({ type: 'rect', shape: { x: BOX_L + 0.5, y: TOP + 0.5, width: PLOT_R - BOX_L, height: BOT - TOP }, style: { fill: 'none', stroke: '#aaa', lineWidth: 1 } });
graphics.push({ type: 'line', shape: { x1: COL_R + 0.5, y1: TOP, x2: COL_R + 0.5, y2: BOT }, style: { stroke: '#777', lineWidth: 1 } });
graphics.push({ type: 'line', shape: { x1: BOX_L, y1: AX_T + 0.5, x2: PLOT_R, y2: AX_T + 0.5 }, style: { stroke: '#aaa', lineWidth: 1 } });
graphics.push({ type: 'text', x: 17, y: 867, style: { text: axisName, font: '15px ' + FONT, fill: '#000', verticalAlign: 'middle', textVerticalAlign: 'middle' } });
// title
graphics.push({ type: 'text', x: 311.5, y: 13, style: { text: titleLines[0], font: '22px ' + FONT, fill: '#000', align: 'center', textAlign: 'center', verticalAlign: 'middle', textVerticalAlign: 'middle' } });
graphics.push({ type: 'text', x: 311.5, y: 41, style: { text: titleLines[1], font: '22px ' + FONT, fill: '#000', align: 'center', textAlign: 'center', verticalAlign: 'middle', textVerticalAlign: 'middle' } });

const chart = echarts.init(document.getElementById('c'), null, { renderer: 'canvas' });
chart.setOption({
  backgroundColor: '#fff',
  animation: false,
  grid: grids, xAxis: xAxes, yAxis: yAxes, series: series,
  graphic: { elements: graphics }
});
</script></body></html>
